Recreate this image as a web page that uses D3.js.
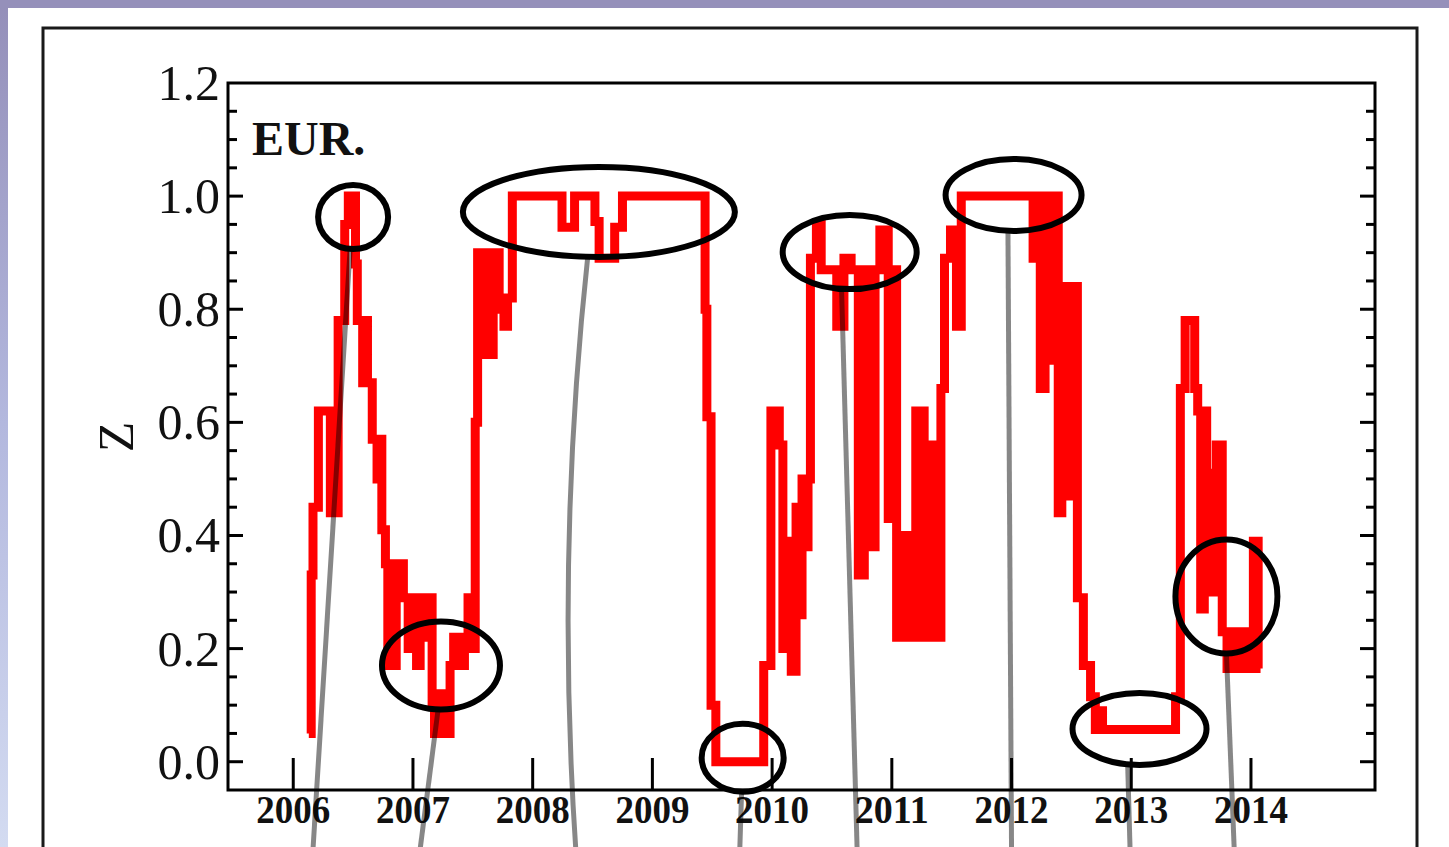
<!DOCTYPE html>
<html>
<head>
<meta charset="utf-8">
<script src="https://cdn.jsdelivr.net/npm/d3@7"></script>
<style>
  body { margin: 0; background: #fff; }
  svg { display: block; }
</style>
</head>
<body>
<svg id="chart" width="1449" height="847"></svg>
<script>
// ---- data -------------------------------------------------------------
// Z index of the EUR series, as decimal year and value (step series)
const dates = [
  2006.13, 2006.15, 2006.165, 2006.21, 2006.31, 2006.375, 2006.43, 2006.46,
  2006.52, 2006.535, 2006.58, 2006.60, 2006.62, 2006.66, 2006.70, 2006.72,
  2006.74, 2006.77, 2006.79, 2006.86, 2006.92, 2006.96, 2006.99, 2007.03,
  2007.06, 2007.10, 2007.13, 2007.16, 2007.18, 2007.22, 2007.25, 2007.31,
  2007.34, 2007.40, 2007.43, 2007.46, 2007.49, 2007.52, 2007.54, 2007.57,
  2007.60, 2007.64, 2007.67, 2007.72, 2007.76, 2007.79, 2007.83,
  2008.245, 2008.35, 2008.52, 2008.555, 2008.685, 2008.75,
  2009.44, 2009.455, 2009.49, 2009.53,
  2009.93, 2009.99, 2010.06, 2010.09, 2010.12, 2010.16, 2010.20, 2010.23,
  2010.25, 2010.28, 2010.30, 2010.32, 2010.37, 2010.41, 2010.54, 2010.60,
  2010.66, 2010.72, 2010.77, 2010.81, 2010.86, 2010.90, 2010.97, 2011.00,
  2011.04, 2011.10, 2011.13, 2011.20, 2011.27, 2011.30, 2011.36, 2011.41,
  2011.44, 2011.49, 2011.54, 2011.58,
  2012.18, 2012.21, 2012.24, 2012.28, 2012.32, 2012.36, 2012.39, 2012.42,
  2012.47, 2012.50, 2012.55, 2012.60, 2012.66, 2012.70, 2012.73, 2012.76,
  2013.37, 2013.41, 2013.45, 2013.53, 2013.555, 2013.58, 2013.61, 2013.63,
  2013.67, 2013.69, 2013.71, 2013.76, 2013.80, 2013.84, 2013.90, 2013.93,
  2013.96, 2014.02, 2014.06, 2014.08
];
const zValues = [
  0.05, 0.33, 0.45, 0.62, 0.44, 0.78, 0.95, 1.00,
  0.88, 0.78, 0.67, 0.78, 0.67, 0.57, 0.50, 0.57,
  0.41, 0.35, 0.17, 0.35, 0.29, 0.20, 0.29, 0.17,
  0.29, 0.22, 0.29, 0.10, 0.05, 0.12, 0.05, 0.17,
  0.22, 0.17, 0.22, 0.29, 0.20, 0.60, 0.90, 0.72,
  0.90, 0.72, 0.90, 0.80, 0.77, 0.82, 1.00,
  0.945, 1.00, 0.955, 0.89, 0.945, 1.00,
  0.80, 0.61, 0.10, 0.00,
  0.17, 0.62, 0.56, 0.20, 0.39, 0.16, 0.45, 0.26,
  0.50, 0.38, 0.50, 0.89, 0.95, 0.87, 0.77, 0.89,
  0.87, 0.33, 0.87, 0.38, 0.87, 0.94, 0.43, 0.87,
  0.22, 0.40, 0.22, 0.62, 0.22, 0.56, 0.22, 0.66,
  0.89, 0.94, 0.77, 1.00,
  0.89, 1.00, 0.66, 1.00, 0.71, 1.00, 0.44, 0.84,
  0.47, 0.84, 0.29, 0.17, 0.115, 0.057, 0.09, 0.057,
  0.115, 0.66, 0.78, 0.66, 0.62, 0.27, 0.62, 0.51,
  0.30, 0.51, 0.56, 0.23, 0.165, 0.23, 0.165, 0.23,
  0.165, 0.39, 0.165, 0.165
];

const yearTicks = [2006, 2007, 2008, 2009, 2010, 2011, 2012, 2013, 2014];
const zTicks = [0.0, 0.2, 0.4, 0.6, 0.8, 1.0, 1.2];
const seriesName = "EUR.";
const axisTitle = "Z";

// highlighted episodes (centre date / centre value)
const markDates  = [2006.50, 2007.234, 2008.553, 2009.754, 2010.648, 2012.017, 2013.069, 2013.795];
const markValues = [0.963, 0.17, 0.972, 0.007, 0.901, 1.002, 0.058, 0.292];
// leader lines: start date on each ellipse, foot date at the page edge
const leaderStart = [2006.475, 2007.21, 2008.46, 2009.745, 2010.58, 2011.97, 2012.97, 2013.795];
const leaderFoot  = [2006.165, 2007.06, 2008.36, 2009.73, 2010.71, 2012.00, 2012.99, 2013.86];

// ---- layout -----------------------------------------------------------
const W = 1449, H = 847;
const plot = { left: 228, right: 1375, top: 83, bottom: 790 };
const markRx = [35, 59, 136, 41, 67, 68, 67, 51];
const markRy = [32, 44, 45, 34, 37, 36, 36, 57];
const leaderBend = [0, 0, -26, 0, 0, 0, 0, 0];

const svg = d3.select("#chart");

// slide background: coloured strips along top and left edge
const defs = svg.append("defs");
const grad = defs.append("linearGradient").attr("id", "edge").attr("x1", 0).attr("y1", 0).attr("x2", 0).attr("y2", 1);
grad.append("stop").attr("offset", 0).attr("stop-color", "#948fb9");
grad.append("stop").attr("offset", 0.5).attr("stop-color", "#b3b8de");
grad.append("stop").attr("offset", 1).attr("stop-color", "#d3dbf1");
svg.append("rect").attr("x", 0).attr("y", 0).attr("width", W).attr("height", H).attr("fill", "#fff");
svg.append("rect").attr("x", 0).attr("y", 0).attr("width", 8).attr("height", H).attr("fill", "url(#edge)");
svg.append("rect").attr("x", 0).attr("y", 0).attr("width", W).attr("height", 8).attr("fill", "#9590ba");

// figure panel
svg.append("rect").attr("x", 43).attr("y", 28).attr("width", 1374).attr("height", 900)
  .attr("fill", "#fff").attr("stroke", "#1a1a1a").attr("stroke-width", 3);

const x = d3.scaleLinear().domain([2005.455, 2015.036]).range([plot.left, plot.right]);
const y = d3.scaleLinear().domain([-0.05, 1.2]).range([plot.bottom, plot.top]);

const serif = "'Liberation Serif', 'Times New Roman', serif";

// plot frame
svg.append("rect").attr("x", plot.left).attr("y", plot.top)
  .attr("width", plot.right - plot.left).attr("height", plot.bottom - plot.top)
  .attr("fill", "none").attr("stroke", "#000").attr("stroke-width", 3);

// y ticks (left and right, inward), major every 0.2, minor every 0.05
const minor = d3.range(1, 24).map(i => +(i * 0.05).toFixed(2));
const tickG = svg.append("g").attr("stroke", "#000").attr("stroke-width", 3);
minor.forEach(v => {
  const isMajor = Math.abs(v / 0.2 - Math.round(v / 0.2)) < 1e-6;
  const len = isMajor ? 15 : 9;
  tickG.append("line").attr("x1", plot.left).attr("x2", plot.left + len).attr("y1", y(v)).attr("y2", y(v));
  tickG.append("line").attr("x1", plot.right).attr("x2", plot.right - len).attr("y1", y(v)).attr("y2", y(v));
});
tickG.append("line").attr("x1", plot.left).attr("x2", plot.left + 15).attr("y1", y(0)).attr("y2", y(0));
tickG.append("line").attr("x1", plot.right).attr("x2", plot.right - 15).attr("y1", y(0)).attr("y2", y(0));

// x ticks: years, upward from the bottom edge
yearTicks.forEach(t => {
  tickG.append("line").attr("x1", x(t)).attr("x2", x(t)).attr("y1", plot.bottom).attr("y2", plot.bottom - 32);
});

// y tick labels
svg.append("g").selectAll("text").data(zTicks).join("text")
  .attr("x", 220).attr("y", d => y(d) + 17)
  .attr("text-anchor", "end")
  .attr("font-family", serif).attr("font-size", 50).attr("fill", "#111")
  .text(d => d.toFixed(1));

// x tick labels
svg.append("g").selectAll("text").data(yearTicks).join("text")
  .attr("x", d => x(d)).attr("y", 823)
  .attr("text-anchor", "middle")
  .attr("font-family", serif).attr("font-weight", "bold").attr("font-size", 39)
  .attr("textLength", 74).attr("lengthAdjust", "spacingAndGlyphs")
  .attr("fill", "#111")
  .text(d => d);

// axis title
svg.append("text")
  .attr("transform", "translate(133,437) rotate(-90)")
  .attr("text-anchor", "middle")
  .attr("font-family", serif).attr("font-size", 50).attr("fill", "#111")
  .text(axisTitle);

// series label
svg.append("text").attr("x", 252).attr("y", 155)
  .attr("font-family", serif).attr("font-weight", "bold").attr("font-size", 48).attr("fill", "#111")
  .text(seriesName);

// Z series
const series = dates.map((d, i) => ({ t: d, v: zValues[i] }));
const line = d3.line().x(d => x(d.t)).y(d => y(d.v)).curve(d3.curveStepAfter);
svg.append("path").datum(series)
  .attr("d", line)
  .attr("fill", "none").attr("stroke", "#ff0000").attr("stroke-width", 9)
  .attr("stroke-linejoin", "miter").attr("stroke-linecap", "butt");

// highlight ellipses
const marks = markDates.map((d, i) => ({ t: d, v: markValues[i], rx: markRx[i], ry: markRy[i] }));
svg.append("g").selectAll("ellipse").data(marks).join("ellipse")
  .attr("cx", d => x(d.t)).attr("cy", d => y(d.v))
  .attr("rx", d => d.rx).attr("ry", d => d.ry)
  .attr("fill", "none").attr("stroke", "#000").attr("stroke-width", 6);

// leader lines from each ellipse down past the panel edge
const leaders = svg.append("g").attr("fill", "none").attr("stroke", "#000")
  .attr("stroke-opacity", 0.47).attr("stroke-width", 5);
marks.forEach((m, i) => {
  const sx = x(leaderStart[i]);
  const dx = sx - x(m.t);
  const sy = y(m.v) + m.ry * Math.sqrt(Math.max(0, 1 - (dx * dx) / (m.rx * m.rx)));
  const ex = x(leaderFoot[i]), ey = H + 2;
  const p = d3.path();
  p.moveTo(sx, sy);
  p.quadraticCurveTo((sx + ex) / 2 + leaderBend[i], (sy + ey) / 2, ex, ey);
  leaders.append("path").attr("d", p.toString());
});
</script>
</body>
</html>
